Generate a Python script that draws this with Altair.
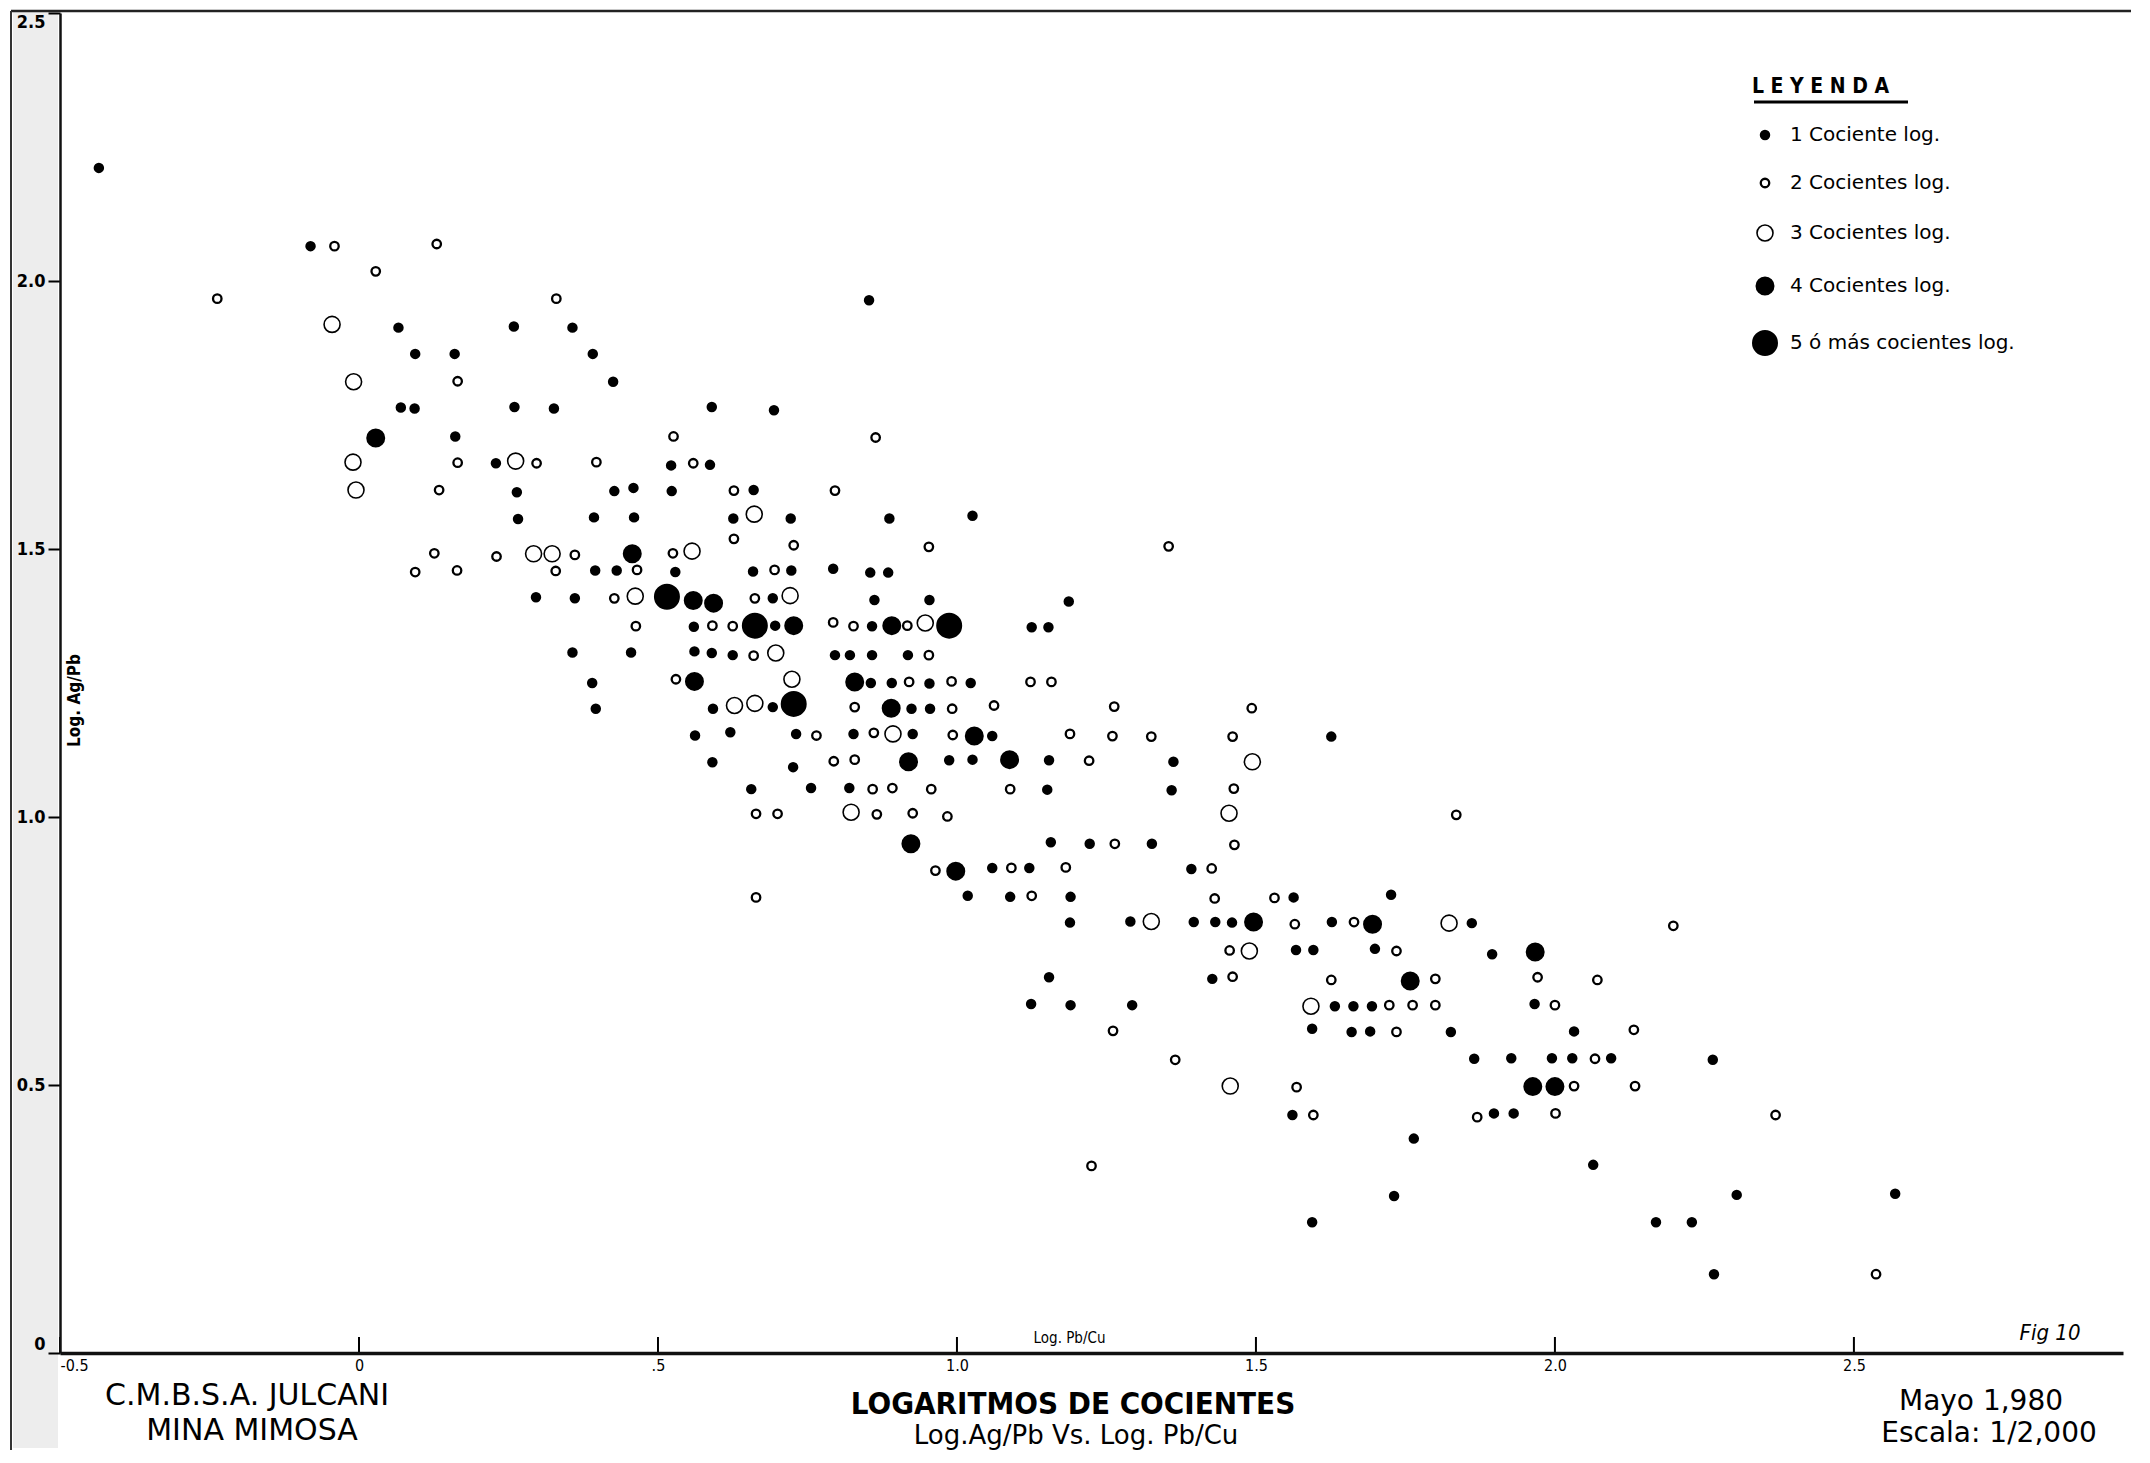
import altair as alt
import pandas as pd

TYPE_LABELS = ["1 Cociente log.", "2 Cocientes log.", "3 Cocientes log.",
               "4 Cocientes log.", "5 ó más cocientes log."]

# Type 1: small filled dots
X_T1 = [-0.435, -0.081, 0.066, 0.259, 0.357, 0.094, 0.160, 0.391, 0.425, 0.070, 0.093, 0.260, 0.326, 0.590,
        0.161, 0.229, 0.522, 0.587, 0.264, 0.427, 0.459, 0.523, 0.266, 0.393, 0.460,
        0.395, 0.431, 0.529, 0.296, 0.361, 0.560, 0.357, 0.455, 0.561, 0.590, 0.390, 0.396, 0.592, 0.562, 0.591,
        0.853,
        0.694, 0.660, 0.626, 0.722, 0.887, 1.026, 0.659, 0.723, 0.793, 0.855, 0.885, 0.692, 0.862, 0.954, 1.187,
        0.696, 0.858, 1.125, 1.153, 0.625, 0.796, 0.821, 0.858, 0.918, 0.856, 0.891, 0.954, 1.023, 0.692, 0.924,
        0.955, 0.621, 0.731, 0.827, 0.926, 1.059, 0.726, 0.987, 1.026, 1.154,
        0.656, 0.756, 0.820, 1.151, 1.157, 1.222, 1.059, 1.121, 1.018, 1.089, 1.190, 1.189, 1.154, 1.124, 1.190,
        1.626, 1.362, 1.359, 1.326, 1.392, 1.563, 1.726,
        1.290, 1.396, 1.432, 1.460, 1.627, 1.861, 1.567, 1.596, 1.699, 1.895, 1.427, 1.293, 1.632, 1.663, 1.694,
        1.966, 1.594, 1.660, 1.691, 1.826, 1.865, 1.927, 1.561, 1.898, 1.931, 1.764, 1.731, 1.594,
        2.032, 1.995, 2.029, 2.094, 2.264, 2.064, 2.304, 2.569, 2.169, 2.229, 2.266]
Y_T1 = [2.211, 2.065, 1.913, 1.915, 1.913, 1.864, 1.864, 1.864, 1.812, 1.764, 1.762, 1.765, 1.762, 1.765,
        1.710, 1.660, 1.656, 1.657, 1.606, 1.608, 1.614, 1.608, 1.556, 1.559, 1.559,
        1.460, 1.460, 1.457, 1.410, 1.408, 1.355, 1.307, 1.307, 1.309, 1.306, 1.250, 1.202, 1.202, 1.152, 1.102,
        1.964,
        1.759, 1.610, 1.557, 1.557, 1.557, 1.562, 1.458, 1.460, 1.463, 1.456, 1.456, 1.408, 1.405, 1.405, 1.402,
        1.357, 1.356, 1.354, 1.354, 1.302, 1.302, 1.302, 1.302, 1.302, 1.250, 1.250, 1.249, 1.250, 1.205, 1.202,
        1.202, 1.158, 1.155, 1.155, 1.155, 1.151, 1.093, 1.106, 1.107, 1.106,
        1.052, 1.054, 1.054, 1.051, 0.953, 0.950, 0.905, 0.905, 0.853, 0.851, 0.851, 0.803, 0.701, 0.651, 0.649,
        1.150, 1.103, 1.050, 0.950, 0.903, 0.850, 0.855,
        0.805, 0.804, 0.804, 0.803, 0.804, 0.802, 0.752, 0.752, 0.754, 0.744, 0.698, 0.649, 0.647, 0.647, 0.647,
        0.651, 0.605, 0.599, 0.600, 0.599, 0.549, 0.550, 0.444, 0.447, 0.447, 0.400, 0.293, 0.244,
        0.600, 0.550, 0.550, 0.550, 0.547, 0.351, 0.295, 0.297, 0.244, 0.244, 0.147]

# Type 2: small open circles
X_T2 = [-0.041, 0.130, 0.028, -0.237, 0.330, 0.165, 0.526, 0.165, 0.297, 0.397, 0.559, 0.134, 0.126, 0.230,
        0.361, 0.525,
        0.094, 0.164, 0.329, 0.465, 0.427, 0.463, 0.591, 0.530,
        0.864, 0.627, 0.796, 0.627, 0.727, 0.953, 0.695, 0.662, 0.625, 0.793, 0.827, 0.917, 0.660, 0.953, 0.920,
        0.991, 1.123, 1.158, 0.829, 0.992, 1.062, 0.765, 0.861, 0.993, 1.189, 0.794, 0.829, 1.221,
        0.859, 0.892, 0.957, 1.089, 0.664, 0.700, 0.866, 0.926, 0.984, 0.964, 1.091, 1.182, 0.664, 1.125,
        1.354, 1.263, 1.493, 1.260, 1.325, 1.461, 1.463, 1.835, 1.264, 1.464, 1.426, 1.431, 1.531,
        1.565, 1.664, 1.456, 1.735, 1.461, 1.626, 1.800, 1.971, 1.723, 1.762, 1.800, 1.261, 1.735, 1.365, 1.568,
        1.596, 1.870, 1.225,
        2.198, 2.071, 2.000, 2.132, 2.067, 2.032, 2.134, 2.001, 2.369, 2.537]
Y_T2 = [2.065, 2.069, 2.018, 1.967, 1.967, 1.813, 1.710, 1.661, 1.660, 1.662, 1.660, 1.610, 1.492, 1.486,
        1.489, 1.492,
        1.457, 1.460, 1.459, 1.461, 1.408, 1.356, 1.357, 1.257,
        1.708, 1.609, 1.609, 1.519, 1.507, 1.504, 1.461, 1.408, 1.356, 1.363, 1.356, 1.357, 1.301, 1.302, 1.252,
        1.253, 1.252, 1.252, 1.205, 1.202, 1.208, 1.152, 1.157, 1.153, 1.155, 1.104, 1.107, 1.105,
        1.052, 1.054, 1.052, 1.052, 1.006, 1.006, 1.005, 1.007, 1.001, 0.900, 0.905, 0.906, 0.850, 0.853,
        1.505, 1.206, 1.203, 1.151, 1.150, 1.150, 1.053, 1.004, 0.950, 0.948, 0.904, 0.848, 0.849,
        0.800, 0.804, 0.751, 0.750, 0.702, 0.696, 0.698, 0.701, 0.649, 0.649, 0.649, 0.601, 0.599, 0.547, 0.496,
        0.444, 0.440, 0.349,
        0.797, 0.696, 0.649, 0.603, 0.549, 0.498, 0.498, 0.447, 0.444, 0.147]

# Type 3: larger open circles
X_T3 = [-0.045, -0.009, -0.010, 0.262, -0.005, 0.292, 0.323, 0.557, 0.462, 0.661, 0.721, 0.947, 0.697, 0.724,
        0.628, 0.662, 0.893, 0.823, 1.494, 1.455, 1.325, 1.823, 1.489, 1.592, 1.457]
Y_T3 = [1.919, 1.812, 1.662, 1.664, 1.610, 1.491, 1.491, 1.496, 1.412, 1.565, 1.413, 1.362, 1.306, 1.257,
        1.208, 1.212, 1.155, 1.009, 1.103, 1.007, 0.805, 0.802, 0.750, 0.647, 0.498]

# Type 4: medium filled dots
X_T4 = [0.028, 0.457, 0.559, 0.593, 0.561, 0.727, 0.891, 0.829, 0.890, 1.029, 0.919, 1.088, 0.923, 0.998,
        1.496, 1.695, 1.967, 1.758, 1.963, 2.000]
Y_T4 = [1.707, 1.491, 1.404, 1.399, 1.253, 1.357, 1.357, 1.252, 1.203, 1.151, 1.103, 1.107, 0.950, 0.899,
        0.804, 0.800, 0.748, 0.694, 0.497, 0.497]

# Type 5: large filled dots
X_T5 = [0.515, 0.662, 0.987, 0.727]
Y_T5 = [1.411, 1.357, 1.357, 1.211]

X_TICKS = [-0.5, 0, 0.5, 1.0, 1.5, 2.0, 2.5]
X_TICK_LABELS = ["-0.5", "0", ".5", "1.0", "1.5", "2.0", "2.5"]
Y_TICKS = [0, 0.5, 1.0, 1.5, 2.0, 2.5]
Y_TICK_LABELS = ["0", "0.5", "1.0", "1.5", "2.0", "2.5"]

rows = []
for lab, xs, ys in zip(TYPE_LABELS, [X_T1, X_T2, X_T3, X_T4, X_T5], [Y_T1, Y_T2, Y_T3, Y_T4, Y_T5]):
    for xv, yv in zip(xs, ys):
        rows.append({"pbcu": xv, "agpb": yv, "tipo": lab})
df = pd.DataFrame(rows)

FONT = "DejaVu Sans Condensed, Liberation Sans Narrow, DejaVu Sans, sans-serif"
FONT_W = "DejaVu Sans, Liberation Sans, sans-serif"
W, H = 2063, 1340


def expr(vals, labs):
    parts = [f"abs(datum.value - ({v})) < 0.001 ? '{l}'" for v, l in zip(vals, labs)]
    return " : ".join(parts) + " : ''"


xscale = alt.Scale(domain=[-0.5, 2.95], nice=False, zero=False)
yscale = alt.Scale(domain=[0, 2.5], nice=False, zero=False)

x_axis = alt.Axis(values=X_TICKS, labelExpr=expr(X_TICKS, X_TICK_LABELS), ticks=False, zindex=1,
                  labelFlush=True, labelPadding=4, labelFontSize=16, labelFont=FONT,
                  domainWidth=3.5, domainColor="#111111", labelColor="black",
                  title="Log. Pb/Cu", titleX=1009, titleY=-16, titleBaseline="middle",
                  titleFontSize=15, titleFontWeight="normal", titleFont=FONT, titleColor="black")
y_axis = alt.Axis(values=Y_TICKS, labelExpr=expr(Y_TICKS, Y_TICK_LABELS), tickSize=12, tickWidth=2,
                  tickColor="black", labelPadding=3, labelFontSize=18, labelFont=FONT, zindex=1,
                  labelFontWeight="bold", labelFlush=True, domainWidth=2.5, domainColor="#111111",
                  labelColor="black",
                  title="Log. Ag/Pb", titleAngle=270, titleX=14, titleY=687, titleBaseline="middle",
                  titleFontSize=17, titleFontWeight="bold", titleFont=FONT, titleColor="black")

leg = alt.Legend(title="L E Y E N D A", orient="none", legendX=1692, legendY=63,
                 titleFontSize=21, titleFontWeight="bold", titleFont=FONT, titleColor="black",
                 labelFontSize=20, labelFont=FONT_W, labelColor="black", labelOffset=12, labelLimit=500,
                 rowPadding=28, titlePadding=28, symbolStrokeColor="black", symbolType="circle",
                 padding=0)

points = alt.Chart(df).mark_point(filled=True, opacity=1, shape="circle").encode(
    x=alt.X("pbcu:Q", scale=xscale, axis=x_axis),
    y=alt.Y("agpb:Q", scale=yscale, axis=y_axis),
    fill=alt.Fill("tipo:N", sort=TYPE_LABELS,
                  scale=alt.Scale(domain=TYPE_LABELS, range=["black", "white", "white", "black", "black"]),
                  legend=leg),
    stroke=alt.Stroke("tipo:N", sort=TYPE_LABELS,
                      scale=alt.Scale(domain=TYPE_LABELS, range=["black"] * 5), legend=leg),
    size=alt.Size("tipo:N", sort=TYPE_LABELS,
                  scale=alt.Scale(type="ordinal", domain=TYPE_LABELS, range=[72, 72, 256, 289, 576]),
                  legend=leg),
    strokeWidth=alt.StrokeWidth("tipo:N", sort=TYPE_LABELS,
                                scale=alt.Scale(type="ordinal", domain=TYPE_LABELS,
                                                range=[2, 2.3, 1.6, 2, 2]), legend=leg),
)

tick_df = pd.DataFrame({"t": X_TICKS})
xticks = alt.Chart(tick_df).mark_rule(color="black", strokeWidth=2).encode(
    x=alt.X("t:Q", scale=xscale, axis=x_axis), y=alt.value(H), y2=alt.value(H - 16))

one = pd.DataFrame({"d": [0]})
band = alt.Chart(one).mark_rect(color="#ededed").encode(
    x=alt.value(-47), x2=alt.value(-2), y=alt.value(-1), y2=alt.value(H + 95))
top_line = alt.Chart(one).mark_rule(color="#222222", strokeWidth=2.5).encode(
    x=alt.value(-49), x2=alt.value(W + 8), y=alt.value(-2))
left_line = alt.Chart(one).mark_rule(color="#333333", strokeWidth=2).encode(
    x=alt.value(-49), y=alt.value(-2), y2=alt.value(H + 97))
leg_underline = alt.Chart(one).mark_rule(color="black", strokeWidth=3).encode(
    x=alt.value(1694), x2=alt.value(1848), y=alt.value(89))


def txt(s, x, y, size, weight="normal", style="normal", font=FONT_W):
    return alt.Chart(one).mark_text(text=s, font=font, fontSize=size, fontWeight=weight, fontStyle=style,
                                    align="center", baseline="middle", color="black").encode(
        x=alt.value(x), y=alt.value(y))


texts = [
    txt("C.M.B.S.A.  JULCANI", 187, 1383, 30),
    txt("MINA  MIMOSA", 192, 1418, 30),
    txt("LOGARITMOS DE COCIENTES", 1013, 1392, 31, weight="bold", font=FONT),
    txt("Log.Ag/Pb Vs. Log. Pb/Cu", 1016, 1423, 26),
    txt("Mayo  1,980", 1921, 1389, 28),
    txt("Escala: 1/2,000", 1929, 1421, 28),
    txt("Fig  10", 1990, 1320, 22, style="italic", font=FONT),
]

chart = alt.layer(band, top_line, left_line, xticks, points, leg_underline, *texts).properties(
    width=W, height=H,
    autosize=alt.AutoSizeParams(type="none"),
    padding={"left": 52, "top": 5, "right": 10, "bottom": 97},
    background="white",
).configure_view(stroke=None).configure_axis(grid=False)

chart.save("out.html", embed_options={"renderer": "svg", "actions": False})
